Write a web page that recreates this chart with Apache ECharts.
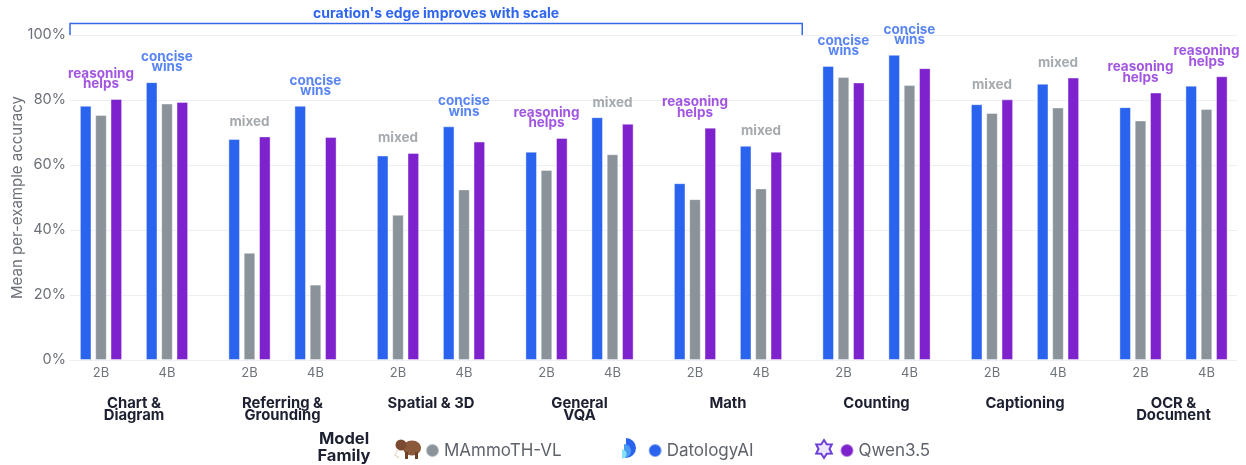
<!DOCTYPE html>
<html><head><meta charset="utf-8">
<script src="https://cdn.jsdelivr.net/npm/echarts@6/dist/echarts.min.js"></script>
<style>html,body{margin:0;padding:0;background:#fff}#c{width:1246px;height:465px}</style>
</head><body><div id="c"></div>
<script>
const groups = ['Chart &\nDiagram','Referring &\nGrounding','Spatial & 3D','General\nVQA','Math','Counting','Captioning','OCR &\nDocument'];
const sizeLabels = ['2B','4B'];
const datology2B = [78.2,68.0,62.9,64.1,54.4,90.5,78.7,77.8];
const mammoth2B  = [75.4,33.0,44.7,58.5,49.5,87.1,76.0,73.7];
const qwen2B     = [80.3,68.8,63.7,68.3,71.5,85.4,80.2,82.3];
const datology4B = [85.5,78.2,71.9,74.7,65.9,93.9,85.0,84.4];
const mammoth4B  = [78.9,23.2,52.5,63.3,52.8,84.6,77.7,77.2];
const qwen4B     = [79.4,68.6,67.2,72.7,64.1,89.8,86.9,87.3];
const verdict2B = ['reasoning helps','mixed','mixed','reasoning helps','reasoning helps','concise wins','mixed','reasoning helps'];
const verdict4B = ['concise wins','concise wins','concise wins','mixed','mixed','concise wins','mixed','reasoning helps'];
const yMin = 0, yMax = 100, yInterval = 20;
const yTitle = 'Mean per-example accuracy';
const bracketText = "curation's edge improves with scale";
const bracketGroups = 5; // first five categories

const FONT = 'Inter, "Noto Sans", sans-serif';
const C_BLUE = '#2A63EE', C_GRAY = '#8A9399', C_PURPLE = '#7E22CE';
const T_BLUE = '#2F66F0', T_GRAY = '#8F959B', T_PURPLE = '#8A2BD8';
const verdictColor = {'reasoning helps': T_PURPLE, 'concise wins': T_BLUE, 'mixed': T_GRAY};

const TOP = 35, H = 325, BAND_LEFT = 59.75, BAND_W = 1188, SUB = 33;
const chart = echarts.init(document.getElementById('c'), null, {renderer:'canvas'});

function gridAxis(idx, showLabel, fmt) {
  return {
    type:'category', gridIndex: idx, data: groups,
    axisLine:{show:false}, axisTick:{show:false}, splitLine:{show:false},
    axisLabel: showLabel ? fmt : {show:false}
  };
}
const hiddenY = i => ({type:'value', gridIndex:i, min:yMin, max:yMax, interval:yInterval, show:false});

function barSeries(name, color, data, axis) {
  return {
    type:'bar', name, xAxisIndex:axis, yAxisIndex:axis, data,
    barWidth:11.6, barGap:'32%',
    itemStyle:{color, borderColor:'rgba(255,255,255,0.4)', borderWidth:1},
    emphasis:{disabled:true}
  };
}
function verdictSeries(verdicts, vals, axis) {
  return {
    type:'scatter', xAxisIndex:axis, yAxisIndex:axis, symbolSize:1, silent:true,
    itemStyle:{color:'rgba(0,0,0,0)'},
    data: verdicts.map((v,i)=>({
      value:[i, Math.max(vals[0][i], vals[1][i], vals[2][i])],
      label:{color: verdictColor[v], formatter: v.replace(' ', '\n')}
    })),
    label:{show:true, position:'top', distance:9,
      fontFamily:FONT, fontWeight:'bold', fontSize:13.5, lineHeight:10.5},
    z:5
  };
}

const gridBase = {top:TOP, height:H, outerBoundsMode:'none', containLabel:false};
const option = {
  animation:false,
  textStyle:{fontFamily:FONT},
  grid:[
    Object.assign({left:70, right:9}, gridBase),
    Object.assign({left:BAND_LEFT-SUB, width:BAND_W}, gridBase),
    Object.assign({left:BAND_LEFT+SUB, width:BAND_W}, gridBase),
    Object.assign({left:BAND_LEFT, width:BAND_W}, gridBase)
  ],
  xAxis:[
    gridAxis(0, false),
    gridAxis(1, true, {show:true, formatter:()=>sizeLabels[0], margin:7, color:'#6E747B', fontSize:13, fontFamily:FONT}),
    gridAxis(2, true, {show:true, formatter:()=>sizeLabels[1], margin:7, color:'#6E747B', fontSize:13, fontFamily:FONT}),
    gridAxis(3, true, {show:true, margin:37, color:'#1D2030', fontSize:14.8, fontWeight:'bold', lineHeight:12.5, verticalAlign:'top', fontFamily:FONT})
  ],
  yAxis:[
    {type:'value', gridIndex:0, min:yMin, max:yMax, interval:yInterval,
     axisLine:{show:false}, axisTick:{show:false},
     axisLabel:{formatter:'{value}%', color:'#6B7078', fontSize:14.5, margin:4, fontFamily:FONT},
     splitLine:{lineStyle:{color:'#ECEFF3', width:1.2}}},
    hiddenY(1), hiddenY(2), hiddenY(3)
  ],
  legend:{
    data:['MAmmoTH-VL','DatologyAI','Qwen3.5'],
    left:420, top:437, icon:'circle', itemWidth:13, itemHeight:13, itemGap:86,
    textStyle:{color:'#5E636B', fontSize:17, fontFamily:FONT}, selectedMode:false
  },
  series:[
    barSeries('DatologyAI', C_BLUE, datology2B, 1),
    barSeries('MAmmoTH-VL', C_GRAY, mammoth2B, 1),
    barSeries('Qwen3.5', C_PURPLE, qwen2B, 1),
    barSeries('DatologyAI', C_BLUE, datology4B, 2),
    barSeries('MAmmoTH-VL', C_GRAY, mammoth4B, 2),
    barSeries('Qwen3.5', C_PURPLE, qwen4B, 2),
    verdictSeries(verdict2B, [datology2B, mammoth2B, qwen2B], 1),
    verdictSeries(verdict4B, [datology4B, mammoth4B, qwen4B], 2)
  ]
};
chart.setOption(option);

const bandW = BAND_W / groups.length;
const bx0 = 70, bx1 = BAND_LEFT + bracketGroups * bandW;
const by = 23.5, byEnd = TOP;

function star(cx, cy, r1, r2) {
  const pts = [];
  for (let k = 0; k < 12; k++) {
    const a = -Math.PI/2 + k*Math.PI/6, r = k % 2 ? r2 : r1;
    pts.push([cx + r*Math.cos(a), cy + r*Math.sin(a)]);
  }
  return pts;
}
chart.setOption({
  graphic:[
    {type:'text', x:17, y:TOP + H/2, rotation:Math.PI/2,
     style:{text:yTitle, fill:'#6B7078', font:'15px '+FONT, align:'center', verticalAlign:'middle'}},
    {type:'polyline', shape:{points:[[bx0,byEnd],[bx0,by],[bx1,by],[bx1,byEnd]]},
     style:{stroke:'#3467EA', lineWidth:1.5, fill:null}, silent:true},
    {type:'text', x:(bx0+bx1)/2, y:14, style:{text:bracketText, fill:T_BLUE, font:'bold 14px '+FONT, align:'center', verticalAlign:'middle'}},
    {type:'text', x:344, y:448, style:{text:'Model\nFamily', fill:'#1D2030', font:'bold 16.5px '+FONT, align:'center', verticalAlign:'middle', lineHeight:17}},
    {type:'ellipse', shape:{cx:412, cy:448, rx:9, ry:7.5}, style:{fill:'#8A5A3B'}},
    {type:'circle', shape:{cx:401, cy:445, r:5.5}, style:{fill:'#7A4B30'}},
    {type:'rect', shape:{x:405, y:452, width:3, height:7}, style:{fill:'#6E4128'}},
    {type:'rect', shape:{x:415, y:452, width:3, height:7}, style:{fill:'#6E4128'}},
    {type:'polyline', shape:{points:[[398,449],[395,455],[399,458]]}, style:{stroke:'#E8E1D2', lineWidth:1.6, fill:null}},
    {type:'sector', shape:{cx:626, cy:448, r:10, r0:0, startAngle:-Math.PI/2, endAngle:Math.PI/2}, style:{fill:'#2A63EE'}},
    {type:'sector', shape:{cx:624, cy:451, r:7, r0:0, startAngle:-Math.PI/2, endAngle:Math.PI/2}, style:{fill:'#4A9BF2'}},
    {type:'sector', shape:{cx:622, cy:454, r:4.5, r0:0, startAngle:-Math.PI/2, endAngle:Math.PI/2}, style:{fill:'#86E2F6'}},
    {type:'polygon', shape:{points:star(824, 449, 9, 5.5)}, style:{fill:'#EDE6FB', stroke:'#6B3FD8', lineWidth:2}}
  ]
});
</script></body></html>
